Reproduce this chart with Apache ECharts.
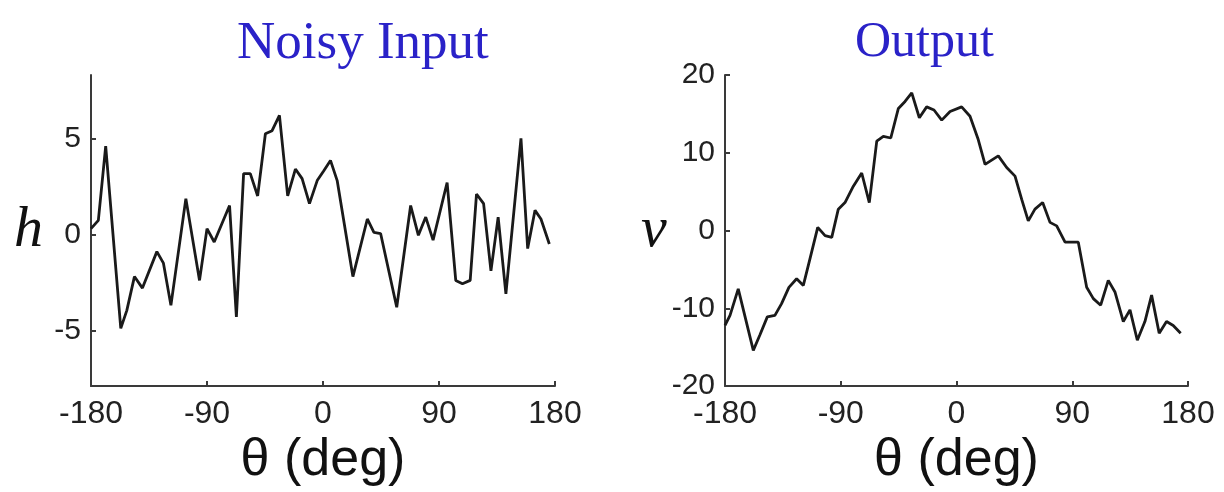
<!DOCTYPE html>
<html>
<head>
<meta charset="utf-8">
<script src="https://cdn.jsdelivr.net/npm/echarts@6/dist/echarts.min.js"></script>
<style>
  html, body { margin: 0; padding: 0; background: #fff; }
  #container { width: 1224px; height: 492px; }
</style>
</head>
<body>
<div id="container"></div>
<script>
// theta (deg) / value pairs
var inputTheta = [-180, -174.3, -168.6, -156.9, -152.2, -146.3, -140.1, -128.9, -123.8, -118, -106.4, -95.8, -90,
    -84.4, -72.5, -67.2, -61.6, -56.4, -50.7, -44.7, -39.5, -33.8, -27.4, -21.4, -16.2, -10.5, -4.5, 0.5,
    5.8, 11, 23.2, 34.4, 39.5, 44.7, 57.2, 68, 74, 79.7, 85.4, 96.3,
    103, 108.2, 114.2, 119.1, 124.6, 130.3, 135.9, 141.9, 153.6, 158.8, 164.5, 169.1, 175.6]
var inputH = [0.3, 0.73, 4.6, -4.9, -3.96, -2.2, -2.8, -0.9, -1.5, -3.7, 1.86, -2.4, 0.3,
    -0.4, 1.5, -4.3, 3.16, 3.16, 2.0, 5.24, 5.4, 6.2, 2.0, 3.4, 2.9, 1.6, 2.8, 3.3,
    3.85, 2.8, -2.2, 0.8, 0.1, 0.04, -3.8, 1.5, -0.05, 0.9, -0.3, 2.7,
    -2.4, -2.57, -2.4, 2.1, 1.6, -1.9, 0.9, -3.1, 5.0, -0.74, 1.25, 0.8, -0.5]

var outputTheta = [-180, -176.1, -169.7, -158, -152.8, -147.1, -141.2, -136, -130.3, -124.3, -119.1, -113.9,
    -107.9, -102.2, -97, -91.9, -86.7, -80.2, -73.7, -67.8, -62, -56.9, -51.1, -45.2, -40, -34.8,
    -28.9, -23.2, -17.5, -11.5, -5, 4, 10.5, 16.9, 22.2, 32.5, 39, 45.5, 50.7, 55.8, 61, 67, 72.7,
    77.9, 84.4, 94.7, 101.2, 106.4, 112.1, 118, 123.2, 129.7, 134.9, 140.6, 146.5, 151.7, 157.6,
    163.3, 168.5, 174.3]
var outputV = [-12.2, -10.9, -7.5, -15.4, -13.4, -11.1, -10.9, -9.4, -7.3, -6.2, -7.05, -3.6,
    0.4, -0.66, -0.87, 2.75, 3.6, 5.7, 7.4, 3.6, 11.5, 12.1, 11.9, 15.7, 16.6, 17.7,
    14.5, 15.9, 15.5, 14.2, 15.3, 15.9, 14.7, 11.7, 8.5, 9.6, 8.1, 7.0, 4.0, 1.25, 2.75, 3.6, 1.05,
    0.6, -1.5, -1.5, -7.3, -8.75, -9.6, -6.4, -7.9, -11.7, -10.2, -14.1, -11.7, -8.3, -13.2,
    -11.7, -12.2, -13.2]

var thetaTicks = [-180, -90, 0, 90, 180]
var hTicks = [-5, 0, 5]
var vTicks = [-20, -10, 0, 10, 20]

function pairs(xs, ys) {
    var out = []
    for (var i = 0; i < xs.length; i++) {
        out.push([xs[i], ys[i]])
    }
    return out
}

var axisColor = '#3a3a3a'
var labelFont = "'Liberation Sans', Arial, sans-serif"
var serifFont = "'Liberation Serif', 'Times New Roman', serif"

function thetaAxis(gridIndex) {
    return {
        gridIndex: gridIndex,
        type: 'value',
        min: -180,
        max: 180,
        interval: 90,
        name: 'θ (deg)',
        nameLocation: 'middle',
        nameGap: 38,
        nameTextStyle: { fontSize: 52, color: '#111', fontFamily: labelFont },
        axisLine: { onZero: false, lineStyle: { color: axisColor, width: 2 } },
        axisTick: { inside: true, length: 5, lineStyle: { color: axisColor, width: 2 } },
        axisLabel: { fontSize: 32, color: '#222', fontFamily: labelFont, margin: 12 },
        splitLine: { show: false }
    }
}

var myChart = echarts.init(document.getElementById('container'));
myChart.setOption({
    animation: false,
    title: [
        {
            text: 'Noisy Input',
            left: 232,
            top: 13,
            textStyle: { fontFamily: serifFont, fontSize: 53, fontWeight: 'normal', color: '#2a22c8' }
        },
        {
            text: 'Output',
            left: 850,
            top: 13,
            textStyle: { fontFamily: serifFont, fontSize: 50, fontWeight: 'normal', color: '#2a22c8' }
        }
    ],
    grid: [
        { left: 91, right: 669, top: 75, bottom: 106 },
        { left: 725, right: 36, top: 75, bottom: 104 }
    ],
    xAxis: [thetaAxis(0), thetaAxis(1)],
    yAxis: [
        {
            gridIndex: 0,
            type: 'value',
            min: -7.9,
            max: 8.3,
            name: 'h',
            nameLocation: 'middle',
            nameRotate: 0,
            nameGap: 48,
            nameTextStyle: { fontSize: 58, fontStyle: 'italic', color: '#111', fontFamily: serifFont },
            axisLine: { onZero: false, lineStyle: { color: axisColor, width: 2 } },
            axisTick: { inside: true, length: 5, customValues: hTicks, lineStyle: { color: axisColor, width: 2 } },
            axisLabel: { fontSize: 30, color: '#222', fontFamily: labelFont, margin: 10, customValues: hTicks },
            splitLine: { show: false }
        },
        {
            gridIndex: 1,
            type: 'value',
            min: -20,
            max: 20,
            interval: 10,
            name: 'v',
            nameLocation: 'middle',
            nameRotate: 0,
            nameGap: 56,
            nameTextStyle: { fontSize: 58, fontStyle: 'italic', color: '#111', fontFamily: serifFont },
            axisLine: { onZero: false, lineStyle: { color: axisColor, width: 2 } },
            axisTick: { inside: true, length: 5, lineStyle: { color: axisColor, width: 2 } },
            axisLabel: { fontSize: 30, color: '#222', fontFamily: labelFont, margin: 10 },
            splitLine: { show: false }
        }
    ],
    series: [
        {
            name: 'h',
            type: 'line',
            xAxisIndex: 0,
            yAxisIndex: 0,
            showSymbol: false,
            data: pairs(inputTheta, inputH),
            lineStyle: { color: '#1a1a1a', width: 2.8 }
        },
        {
            name: 'v',
            type: 'line',
            xAxisIndex: 1,
            yAxisIndex: 1,
            showSymbol: false,
            data: pairs(outputTheta, outputV),
            lineStyle: { color: '#1a1a1a', width: 2.8 }
        }
    ]
})
</script>
</body>
</html>
